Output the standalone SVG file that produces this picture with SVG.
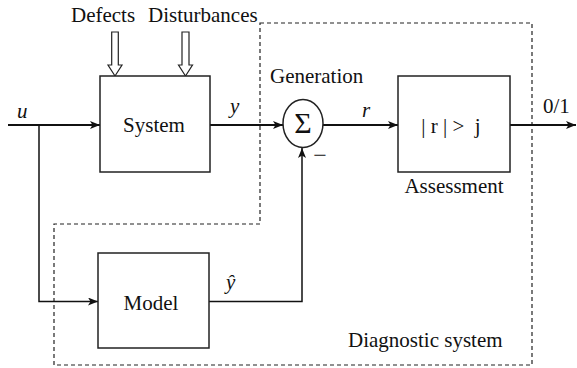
<svg xmlns="http://www.w3.org/2000/svg" width="577" height="368" viewBox="0 0 577 368">
  <style>
    .box { fill: #fff; stroke: #222; stroke-width: 1.5; }
    .wire { fill: none; stroke: #111; stroke-width: 2; }
    .thin { fill: none; stroke: #111; stroke-width: 1.5; }
    .hollow { fill: #fff; stroke: #222; stroke-width: 1.2; }
    .frame { fill: none; stroke: #222; stroke-width: 1.2; stroke-dasharray: 4 3; }
    text { font-family: "Liberation Serif", "Times New Roman", serif; font-size: 21px; fill: #111; }
    .it { font-style: italic; }
    .mid { text-anchor: middle; }
  </style>
  <defs>
    <marker id="arrow" markerUnits="userSpaceOnUse" markerWidth="11" markerHeight="9" refX="10" refY="4" orient="auto">
      <path d="M0,0 L10,4 L0,8 L2.5,4 Z" fill="#111"/>
    </marker>
  </defs>

  <!-- dashed boundary of the diagnostic part -->
  <path class="frame" d="M260,23 H532 V365 H54 V224 H260 Z"/>

  <g id="connectors">
    <path class="wire" d="M8,125 H100" marker-end="url(#arrow)"/>
    <path class="thin" d="M39,125 V301.5 H98" marker-end="url(#arrow)"/>
    <path class="wire" d="M210,125 H283" marker-end="url(#arrow)"/>
    <path class="thin" d="M209,301.5 H302 V148" marker-end="url(#arrow)"/>
    <path class="wire" d="M323,125 H398" marker-end="url(#arrow)"/>
    <path class="wire" d="M510,125 H576" marker-end="url(#arrow)"/>
    <!-- hollow input arrows -->
    <polygon class="hollow" points="111.7,32 118.3,32 118.3,65 122,65 115,76 108,65 111.7,65"/>
    <polygon class="hollow" points="182,32 189,32 189,65 192.5,65 185.5,76 178.5,65 182,65"/>
  </g>

  <g id="labels">
    <text x="71" y="22">Defects</text>
    <text x="148" y="22">Disturbances</text>
    <text class="it" x="17" y="118">u</text>
    <text class="it" x="230" y="113">y</text>
    <text class="it" x="362" y="117">r</text>
    <text x="270" y="83">Generation</text>
    <text x="543" y="113">0/1</text>
    <text class="it" x="226" y="289">ŷ</text>
    <text class="mid" x="320" y="163" style="font-size:24px">−</text>
    <text x="348" y="347">Diagnostic system</text>
  </g>

  <g id="system">
    <rect class="box" x="100" y="76" width="110" height="96"/>
    <text class="mid" x="154" y="132">System</text>
  </g>

  <g id="model">
    <rect class="box" x="98" y="253" width="111" height="95"/>
    <text class="mid" x="151" y="310">Model</text>
  </g>

  <g id="sum">
    <ellipse class="box" cx="303" cy="123.5" rx="20" ry="24"/>
    <text class="mid" x="303" y="133" style="font-size:30px">Σ</text>
  </g>

  <g id="assessment">
    <rect class="box" x="398" y="76" width="112" height="96"/>
    <text class="mid" x="451" y="133" xml:space="preserve">| r | &gt;  j</text>
    <text class="mid" x="454" y="193">Assessment</text>
  </g>
</svg>
